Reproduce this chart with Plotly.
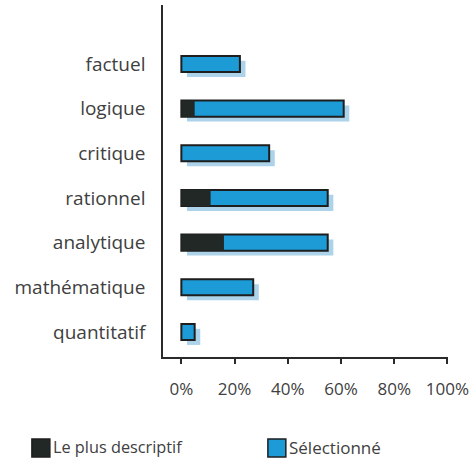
import plotly.graph_objects as go

# Adjectifs (haut -> bas) et pourcentages
categories = ["factuel", "logique", "critique", "rationnel",
              "analytique", "mathématique", "quantitatif"]
plus_descriptif = [0, 5, 0, 11, 16, 0, 0]
selectionne = [22, 61, 33, 55, 55, 27, 5]

tick_vals = [0, 20, 40, 60, 80, 100]
tick_text = ["0%", "20%", "40%", "60%", "80%", "100%"]

series_names = ["Le plus descriptif", "Sélectionné"]

DARK = "#222826"
BLUE = "#1c9bd6"
SHADOW = "#acd3ea"
EDGE = "#1e1e1e"
TEXT = "#404040"
FONT = "Open Sans"

BAR_W = 0.36
SHIFT_X = 2.1    # décalage horizontal de l'ombre (en %)
SHIFT_Y = 0.11   # décalage vertical de l'ombre (en unités de catégorie)

fig = go.Figure()

# Ombre portée derrière chaque barre
fig.add_trace(go.Bar(
    y=categories, x=selectionne, base=[SHIFT_X] * len(categories),
    orientation="h", width=BAR_W, offset=-BAR_W / 2 - SHIFT_Y,
    marker=dict(color=SHADOW, line=dict(width=0)),
    showlegend=False, hoverinfo="skip",
))

# Barre totale « Sélectionné »
fig.add_trace(go.Bar(
    y=categories, x=selectionne, base=[0] * len(categories),
    orientation="h", width=BAR_W, offset=-BAR_W / 2,
    marker=dict(color=BLUE, line=dict(color=EDGE, width=2)),
    name=series_names[1], showlegend=False,
))

# Portion « Le plus descriptif »
fig.add_trace(go.Bar(
    y=categories, x=plus_descriptif, base=[0] * len(categories),
    orientation="h", width=BAR_W, offset=-BAR_W / 2,
    marker=dict(color=DARK, line=dict(color=EDGE, width=0)),
    name=series_names[0], showlegend=False,
))

# Légende dessinée en bas (coordonnées relatives à la zone de tracé)
legend_items = [(-0.46, DARK, series_names[0], 16.3),
                (0.368, BLUE, series_names[1], 17)]
shapes = []
annotations = []
for xp, col, label, fs in legend_items:
    shapes.append(dict(type="rect", xref="paper", yref="paper",
                       x0=xp, x1=xp + 0.063, y0=-0.284, y1=-0.233,
                       fillcolor=col, line=dict(color=EDGE, width=1.5)))
    annotations.append(dict(xref="paper", yref="paper", x=xp + 0.066, y=-0.257,
                            text=label, showarrow=False, xanchor="left",
                            yanchor="middle",
                            font=dict(family=FONT, size=fs, color=TEXT)))

fig.update_layout(
    width=474, height=463,
    margin=dict(l=163, r=26, t=5, b=106),
    paper_bgcolor="white", plot_bgcolor="white",
    barmode="overlay",
    showlegend=False,
    shapes=shapes,
    annotations=annotations,
    font=dict(family=FONT, size=16, color=TEXT),
)

fig.update_xaxes(
    range=[-6.9, 100.2], tickvals=tick_vals, ticktext=tick_text,
    showgrid=False, zeroline=False,
    showline=True, linecolor="#2a2a2a", linewidth=1.5,
    ticks="outside", ticklen=5, tickwidth=1.5, tickcolor="#2a2a2a",
    tickfont=dict(family=FONT, size=17, color=TEXT),
    ticklabelstandoff=11,
)

fig.update_yaxes(
    categoryorder="array", categoryarray=categories[::-1],
    range=[-0.56, 7.32],
    showgrid=False, zeroline=False,
    showline=True, linecolor="#2a2a2a", linewidth=1.5,
    ticks="", tickfont=dict(family=FONT, size=19, color=TEXT),
    ticklabelstandoff=12,
)

fig.write_html("out.html")
